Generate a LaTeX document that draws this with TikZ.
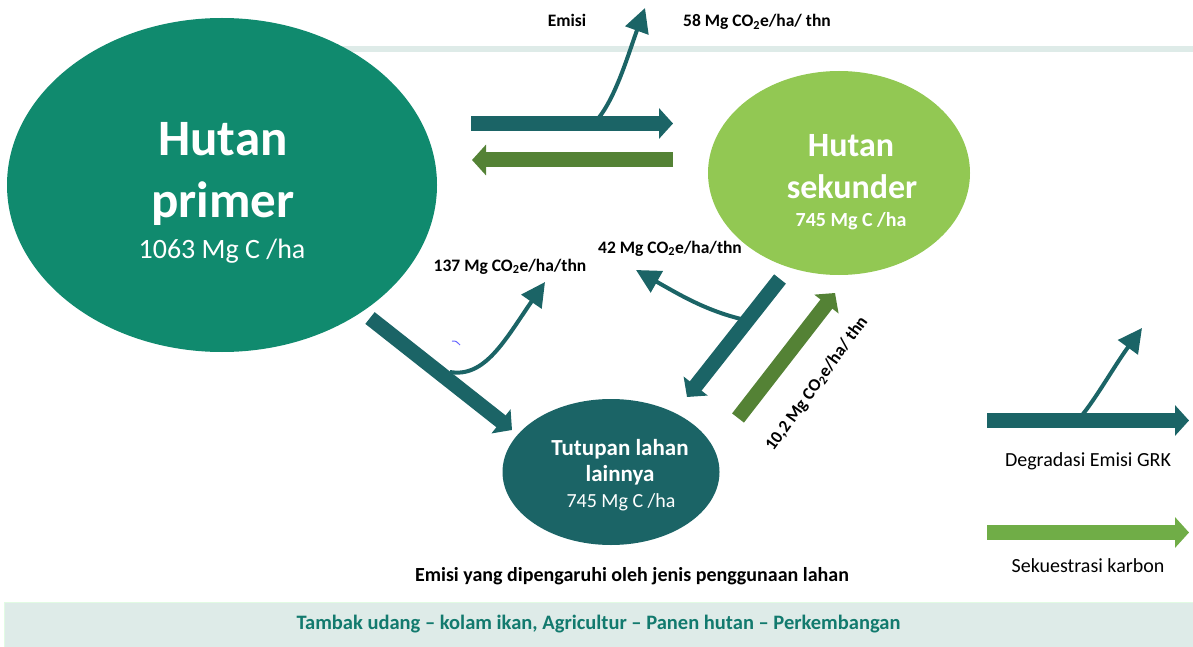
\documentclass[tikz,border=0pt]{standalone}
\usepackage{fontspec}
\setmainfont{Carlito}
\usepackage{xcolor}
\usepackage{tikz}
\usetikzlibrary{shapes,arrows.meta,positioning,calc}

\definecolor{primerGreen}{RGB}{16,138,110}
\definecolor{sekunderGreen}{RGB}{146,200,83}
\definecolor{darkTeal}{RGB}{27,100,102}
\definecolor{seqGreen}{RGB}{84,130,53}
\definecolor{legendGreen}{RGB}{112,173,71}
\definecolor{barGray}{RGB}{222,235,232}
\definecolor{barText}{RGB}{18,122,110}

\begin{document}
\begin{tikzpicture}[x=1pt, y=-1pt,
    forest/.style={ellipse, inner sep=0pt},
    title/.style={anchor=base, text=white, inner sep=0pt},
    flow/.style={line width=15pt, -{Triangle[length=14pt,width=30pt]}},
    emit/.style={draw=darkTeal, line width=4pt, -{Triangle[length=24pt,width=24pt]}},
    rate/.style={anchor=base, inner sep=0pt, font=\fontsize{17.5}{21}\selectfont\bfseries},
    legendText/.style={anchor=base, inner sep=0pt, font=\fontsize{20}{24}\selectfont}
]
    \useasboundingbox (0,0) rectangle (1193,647);
    \draw[barGray, line width=6pt] (200,49) -- (1193,49);

    \node[forest, fill=primerGreen, minimum width=430pt, minimum height=334pt] (primer) at (222,185) {};
    \node[title, font=\fontsize{51}{60}\selectfont\bfseries] (primerA) at (223,156) {Hutan};
    \node[title, font=\fontsize{51}{60}\selectfont\bfseries] (primerB) at (223,218) {primer};
    \node[title, font=\fontsize{28}{34}\selectfont] (primerC) at (222,258) {1063 Mg C /ha};

    \node[forest, fill=sekunderGreen, minimum width=262pt, minimum height=204pt] (sekunder) at (839,173) {};
    \node[title, font=\fontsize{34}{40}\selectfont\bfseries] (sekunderA) at (851,157) {Hutan};
    \node[title, font=\fontsize{34}{40}\selectfont\bfseries] (sekunderB) at (852,199) {sekunder};
    \node[title, font=\fontsize{20}{24}\selectfont\bfseries] (sekunderC) at (851,226) {745 Mg C /ha};

    \node[forest, fill=darkTeal, minimum width=217pt, minimum height=146pt] (lainnya) at (611,472) {};
    \node[title, font=\fontsize{23}{27}\selectfont\bfseries] (lainnyaA) at (620,455) {Tutupan lahan};
    \node[title, font=\fontsize{23}{27}\selectfont\bfseries] (lainnyaB) at (620,481) {lainnya};
    \node[title, font=\fontsize{20}{24}\selectfont] (lainnyaC) at (621,507) {745 Mg C /ha};

    \coordinate (degStart) at (471,123.5);
    \coordinate (degEnd) at (673,123.5);
    \coordinate (seqStart) at (673,160);
    \coordinate (seqEnd) at (472,160);
    \coordinate (convStart) at (370,318);
    \coordinate (convEnd) at (512,430);
    \coordinate (secStart) at (780,279);
    \coordinate (secEnd) at (687,397);
    \coordinate (regrowStart) at (738,418);
    \coordinate (regrowEnd) at (835,293);

    \draw[flow, darkTeal] (degStart) -- (degEnd);
    \draw[flow, seqGreen] (seqStart) -- (seqEnd);
    \draw[flow, darkTeal] (convStart) -- (convEnd);
    \draw[flow, darkTeal] (secStart) -- (secEnd);
    \draw[flow, seqGreen] (regrowStart) -- (regrowEnd);

    \coordinate (degEmit) at (596,121);
    \coordinate (degTop) at (645,8);
    \coordinate (convEmit) at (450,372);
    \coordinate (convTop) at (545,282);
    \coordinate (secEmit) at (741,319);
    \coordinate (secTop) at (636,270);
    \draw[emit] (degEmit) .. controls (615,100) and (628,55) .. (degTop);
    \draw[emit] (convEmit) .. controls (485,378) and (505,340) .. (convTop);
    \draw[emit] (secEmit) .. controls (705,310) and (680,295) .. (secTop);
    \draw[blue!60, line width=1pt] (452,341) .. controls (456,341) .. (460,345);

    \node[rate] (emisiLabel) at (567,27) {Emisi};
    \node[rate] (degRate) at (757,27) {58 Mg CO\textsubscript{2}e/ha/ thn};
    \node[rate] (convRate) at (510,271) {137 Mg CO\textsubscript{2}e/ha/thn};
    \node[rate] (secRate) at (670,253) {42 Mg CO\textsubscript{2}e/ha/thn};
    \node[rate, anchor=center, rotate=54] (regrowRate) at (817,384) {10,2 Mg CO\textsubscript{2}e/ha/ thn};
    \node[rate, font=\fontsize{20}{24}\selectfont\bfseries] (useNote) at (632,581) {Emisi yang dipengaruhi oleh jenis penggunaan lahan};

    \coordinate (legDegStart) at (987,420.5);
    \coordinate (legDegEnd) at (1189,420.5);
    \coordinate (legSeqStart) at (987,532.5);
    \coordinate (legSeqEnd) at (1189,532.5);
    \coordinate (legEmit) at (1083,414);
    \coordinate (legTop) at (1142,328);
    \draw[flow, darkTeal] (legDegStart) -- (legDegEnd);
    \draw[emit] (legEmit) .. controls (1098,395) and (1115,365) .. (legTop);
    \draw[flow, legendGreen] (legSeqStart) -- (legSeqEnd);
    \node[legendText] (legDeg) at (1088,466) {Degradasi Emisi GRK};
    \node[legendText] (legSeq) at (1088,572) {Sekuestrasi karbon};

    \node[rectangle, fill=barGray, draw=barGray!70!green!30, minimum width=1189pt, minimum height=45pt, inner sep=0pt,
        text=barText, font=\fontsize{20.5}{24}\selectfont\bfseries] (usageBar) at (598.5,624.5)
        {Tambak udang -- kolam ikan, Agricultur -- Panen hutan -- Perkembangan};
\end{tikzpicture}
\end{document}
